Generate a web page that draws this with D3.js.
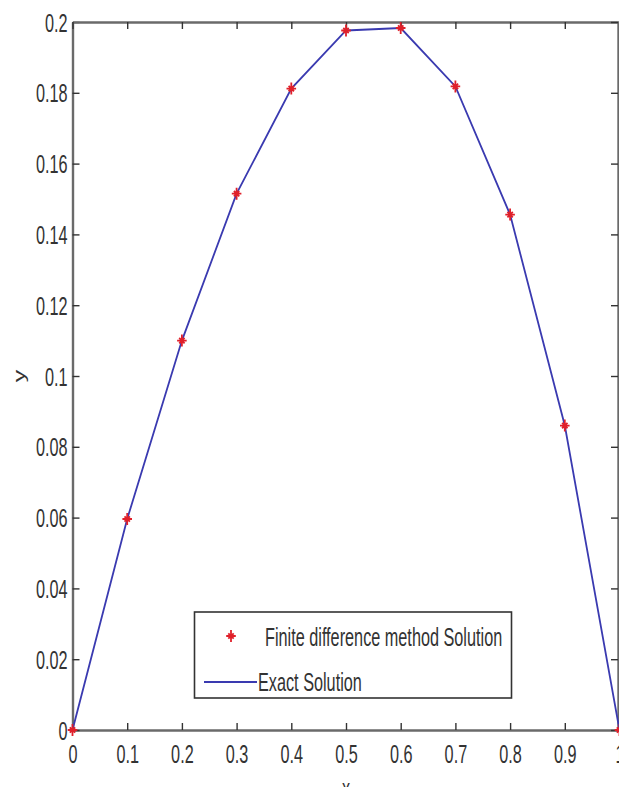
<!DOCTYPE html>
<html>
<head>
<meta charset="utf-8">
<script src="https://cdn.jsdelivr.net/npm/d3@7"></script>
<style>
  html, body { margin: 0; padding: 0; background: #fff; }
  svg { display: block; }
  text { font-family: "Liberation Sans", Arial, sans-serif; fill: #333; font-size: 25px; }
</style>
</head>
<body>
<svg id="chart" width="619" height="787"></svg>
<script>
// Grid nodes and solution values
const xNodes = [0, 0.1, 0.2, 0.3, 0.4, 0.5, 0.6, 0.7, 0.8, 0.9, 1.0];
const finiteDiff = [0, 0.0596, 0.1100, 0.1515, 0.1812, 0.1976, 0.1983, 0.1818, 0.1456, 0.0860, 0];
const exactSol = [0, 0.0596, 0.1100, 0.1515, 0.1812, 0.1976, 0.1983, 0.1818, 0.1456, 0.0860, 0];
const xTicks = [0, 0.1, 0.2, 0.3, 0.4, 0.5, 0.6, 0.7, 0.8, 0.9, 1];
const yTicks = [0, 0.02, 0.04, 0.06, 0.08, 0.1, 0.12, 0.14, 0.16, 0.18, 0.2];
const legendLabels = ["Finite difference method Solution", "Exact Solution"];

const svg = d3.select("#chart");
const plotLeft = 72.5, plotRight = 619.5, plotTop = 22, plotBottom = 730;
const SX = 0.65; // horizontal squeeze for the narrow lettering

const x = d3.scaleLinear().domain([0, 1]).range([plotLeft, plotRight]);
const y = d3.scaleLinear().domain([0, 0.2]).range([plotBottom, plotTop]);

const fmt = d => String(+d.toFixed(2));

// Narrow text: scale horizontally about the text's own origin
function condense(sel) {
  sel.each(function () {
    const t = d3.select(this);
    const tx = +t.attr("x") || 0;
    t.attr("x", tx / SX).attr("transform", `scale(${SX},1)`);
  });
}

// Axes box: bottom/left with labels, top/right mirrored ticks
const gx = svg.append("g").attr("transform", `translate(0,${plotBottom})`)
  .call(d3.axisBottom(x).tickValues(xTicks).tickSizeInner(-7).tickSizeOuter(0).tickPadding(15).tickFormat(fmt));
const gy = svg.append("g").attr("transform", `translate(${plotLeft},0)`)
  .call(d3.axisLeft(y).tickValues(yTicks).tickSizeInner(-7).tickSizeOuter(0).tickPadding(5).tickFormat(fmt));
const gxt = svg.append("g").attr("transform", `translate(0,${plotTop})`)
  .call(d3.axisTop(x).tickValues(xTicks).tickSizeInner(-7).tickSizeOuter(0).tickFormat(""));
const gyr = svg.append("g").attr("transform", `translate(${plotRight - 1.5},0)`)
  .call(d3.axisRight(y).tickValues(yTicks).tickSizeInner(-7).tickSizeOuter(0).tickFormat(""));

[gx, gy, gxt, gyr].forEach(g => {
  g.select(".domain").attr("stroke", "#6a6a6a").attr("stroke-width", 2.4);
  g.selectAll(".tick line").attr("stroke", "#333").attr("stroke-width", 1.4);
  g.selectAll(".tick text").attr("fill", "#333")
    .style("font-size", "25px").style("font-family", "'Liberation Sans', Arial, sans-serif");
});
gy.selectAll(".tick text").attr("dy", "0.36em");
condense(gx.selectAll(".tick text"));
condense(gy.selectAll(".tick text"));

// Axis titles
svg.append("g").attr("transform", `translate(${x(0.5)},797)`)
  .append("text").attr("text-anchor", "middle").attr("transform", `scale(${SX},1)`).text("x");
svg.append("g").attr("transform", `translate(25,${y(0.1)}) rotate(-90)`)
  .append("text").attr("text-anchor", "middle").attr("transform", `scale(1,${SX})`).text("y");

// Exact solution polyline
const line = d3.line().x((d, i) => x(xNodes[i])).y(d => y(d));
svg.append("path").datum(exactSol).attr("d", line)
  .attr("fill", "none").attr("stroke", "#3a3ab0").attr("stroke-width", 1.8);

// Asterisk markers for finite-difference values
function star(g, cx, cy, r) {
  g.append("path")
    .attr("d", `M${cx - r * 0.8},${cy}L${cx + r * 0.8},${cy}M${cx},${cy - r}L${cx},${cy + r}` +
      `M${cx - r * 0.45},${cy - r * 0.45}L${cx + r * 0.45},${cy + r * 0.45}` +
      `M${cx - r * 0.45},${cy + r * 0.45}L${cx + r * 0.45},${cy - r * 0.45}`)
    .attr("stroke", "#e0202a").attr("stroke-width", 1.8).attr("fill", "none");
}
const markers = svg.append("g");
finiteDiff.forEach((v, i) => star(markers, x(xNodes[i]), y(v), 6));

// Legend
const lg = svg.append("g");
lg.append("rect").attr("x", 194.5).attr("y", 612).attr("width", 317).attr("height", 86)
  .attr("fill", "#fff").attr("stroke", "#333").attr("stroke-width", 1.6);
star(lg, 231, 636, 6);
lg.append("g").attr("transform", "translate(265,646)")
  .append("text").attr("transform", `scale(${SX},1)`).text(legendLabels[0]);
lg.append("line").attr("x1", 204).attr("x2", 257).attr("y1", 682).attr("y2", 682)
  .attr("stroke", "#3a3ab0").attr("stroke-width", 1.8);
lg.append("g").attr("transform", "translate(258,691)")
  .append("text").attr("transform", `scale(${SX},1)`).text(legendLabels[1]);
</script>
</body>
</html>
